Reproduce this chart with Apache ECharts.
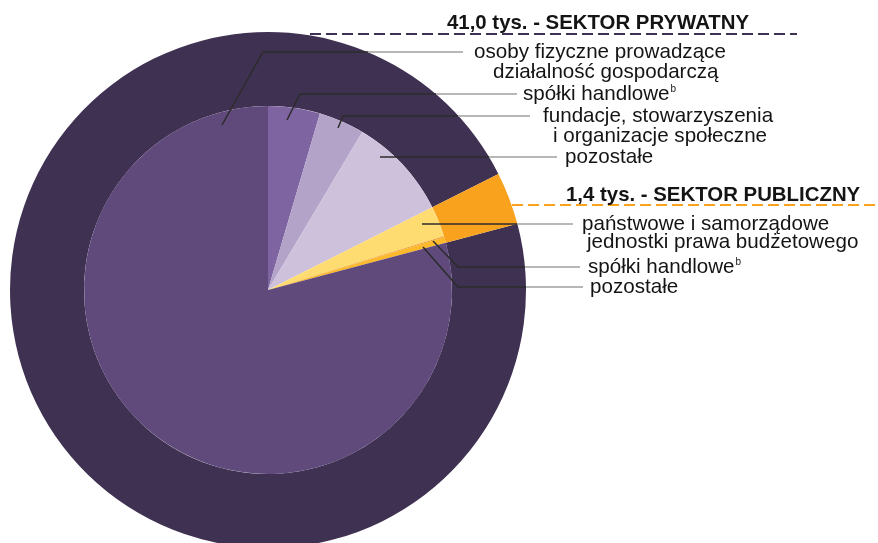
<!DOCTYPE html>
<html><head><meta charset="utf-8">
<script src="https://cdn.jsdelivr.net/npm/echarts@6/dist/echarts.min.js"></script>
<style>html,body{margin:0;padding:0;background:#fff}#c{width:878px;height:543px}</style>
</head><body><div id="c"></div>
<script>
// ---------- data ----------
const sectorNames = ['SEKTOR PRYWATNY', 'SEKTOR PUBLICZNY'];
const sectorTotals = [41.0, 1.4]; // tys.
const privateCategories = ['osoby fizyczne prowadzące\ndziałalność gospodarczą', 'spółki handlowe', 'fundacje, stowarzyszenia\ni organizacje społeczne', 'pozostałe'];
const privateNotes = ['', 'b', '', ''];
const privateValues = [33.55, 1.93, 1.70, 3.82];
const publicCategories = ['państwowe i samorządowe\njednostki prawa budżetowego', 'spółki handlowe', 'pozostałe'];
const publicNotes = ['', 'b', ''];
const publicValues = [1.15, 0.04, 0.21];

// ---------- styles / layout ----------
const CX = 268, CY = 290, R_IN = 184, R_OUT = 258, W = 878;
const FONT = '"Liberation Sans", Arial, sans-serif';
const sectorColors = ['#3f3152', '#f8a21e'];
const privateColors = ['#5f4a7b', '#7e64a1', '#b3a3c9', '#cdc1dc'];
const publicColors = ['#ffdc72', '#e9952c', '#fdb92a'];
const privateLabelLayout = [
  {start: [222, 125], corner: [263, 52], end: 463, tx: 474, ty: 52, indent: 19, lh: 20},
  {start: [287, 120], corner: [300, 94], end: 517, tx: 523, ty: 94},
  {start: [338, 128], corner: [343, 116], end: 530, tx: 543, ty: 116, indent: 10, lh: 20},
  {start: [380, 157], corner: null, end: 557, tx: 565, ty: 157}
];
const publicLabelLayout = [
  {start: [422, 224], corner: null, end: 573, tx: 582, ty: 224, indent: 5, lh: 18},
  {start: [433, 241], corner: [458, 267], end: 580, tx: 588, ty: 267},
  {start: [423, 247], corner: [458, 287], end: 583, tx: 590, ty: 287}
];
const sectorLabelLayout = [
  {start: [310, 34], end: 797, tx: 447, ty: 23},
  {start: [512, 205], end: 878, tx: 566, ty: 195}
];

function lineColor(y) {
  const e = CX + Math.sqrt(Math.max(0, R_OUT * R_OUT - (y - CY) * (y - CY)));
  const o = Math.min(1, e / W);
  return {type: 'linear', x: 0, y: 0, x2: W, y2: 0, global: true,
    colorStops: [{offset: 0, color: '#2b2b2b'}, {offset: o, color: '#2b2b2b'},
                 {offset: o, color: '#a0a0a0'}, {offset: 1, color: '#a0a0a0'}]};
}
function richText(name, note) {
  const lines = name.split('\n');
  let s = '{t|' + lines[0] + '}' + (note ? '{sup|' + note + '}' : '');
  if (lines.length > 1) s += '\n{t2|' + lines[1] + '}';
  return s;
}

// inner pie: clockwise from 12 o'clock: private (except first), public, then private[0]
const innerItems = [];
for (let i = 1; i < privateValues.length; i++) innerItems.push({name: privateCategories[i], note: privateNotes[i], value: privateValues[i], color: privateColors[i], L: privateLabelLayout[i]});
for (let i = 0; i < publicValues.length; i++) innerItems.push({name: publicCategories[i], note: publicNotes[i], value: publicValues[i], color: publicColors[i], L: publicLabelLayout[i]});
innerItems.push({name: privateCategories[0], note: privateNotes[0], value: privateValues[0], color: privateColors[0], L: privateLabelLayout[0]});

const innerTotal = innerItems.reduce((a, b) => a + b.value, 0);
const smallSum = innerItems.slice(0, innerItems.length - 1).reduce((a, b) => a + b.value, 0);
const outerStart = 90 - 360 * smallSum / innerTotal;

const innerData = innerItems.map(it => ({
  name: it.name, value: it.value,
  itemStyle: {color: it.color},
  label: {formatter: richText(it.name, it.note),
    rich: {
      t: {fontFamily: FONT, fontSize: 20.6, color: '#141414', lineHeight: it.L.lh || 20},
      t2: {fontFamily: FONT, fontSize: 20.6, color: '#141414', lineHeight: it.L.lh || 20, padding: [0, 0, 0, it.L.indent || 0]},
      sup: {fontFamily: FONT, fontSize: 10, color: '#141414', verticalAlign: 'top', lineHeight: 20, padding: [0, 0, 6, 1]}
    }}
}));

const outerData = sectorNames.map((n, i) => ({
  name: n, value: sectorTotals[i],
  itemStyle: {color: sectorColors[i]},
  label: {formatter: sectorTotals[i].toFixed(1).replace('.', ',') + ' tys. - ' + n},
  labelLine: {lineStyle: {color: sectorColors[i], width: 2, type: [11, 5]}}
}));

function pts(L) {
  const c = L.corner || L.start;
  return [L.start, c, [L.end, L.corner ? L.corner[1] : L.start[1]]];
}

// leader lines drawn on top of both rings
const leaderLines = innerItems.map(it => ({
  type: 'polyline', z: 100, silent: true,
  shape: {points: pts(it.L)},
  style: {fill: null, stroke: lineColor(it.L.corner ? it.L.corner[1] : it.L.start[1]), lineWidth: 1.5}
}));

const chart = echarts.init(document.getElementById('c'), null, {renderer: 'canvas'});
chart.setOption({
  animation: false,
  backgroundColor: '#ffffff',
  graphic: leaderLines,
  series: [
    {
      type: 'pie', center: [CX, CY], radius: [R_IN, R_OUT], startAngle: outerStart, clockwise: true,
      silent: true, avoidLabelOverlap: false,
      itemStyle: {borderWidth: 0},
      label: {show: true, position: 'outside', fontFamily: FONT, fontSize: 20.4, fontWeight: 'bold', color: '#141414', overflow: 'none', width: 420},
      labelLine: {show: true, length: 5, length2: 5, smooth: false},
      labelLayout: function (p) {
        const L = sectorLabelLayout[p.dataIndex];
        return {x: L.tx, y: L.ty, align: 'left', verticalAlign: 'middle',
          labelLinePoints: [L.start, L.start, [L.end, L.start[1]]]};
      },
      data: outerData
    },
    {
      type: 'pie', center: [CX, CY], radius: [0, R_IN], startAngle: 90, clockwise: true,
      silent: true, avoidLabelOverlap: false,
      itemStyle: {borderWidth: 0},
      label: {show: true, position: 'outside', overflow: 'none', width: 420},
      labelLine: {show: false},
      labelLayout: function (p) {
        const L = innerItems[p.dataIndex].L;
        return {x: L.tx, y: L.ty + (L.lh ? L.lh / 2 : 0), align: 'left', verticalAlign: 'middle'};
      },
      data: innerData
    }
  ]
});
</script></body></html>
